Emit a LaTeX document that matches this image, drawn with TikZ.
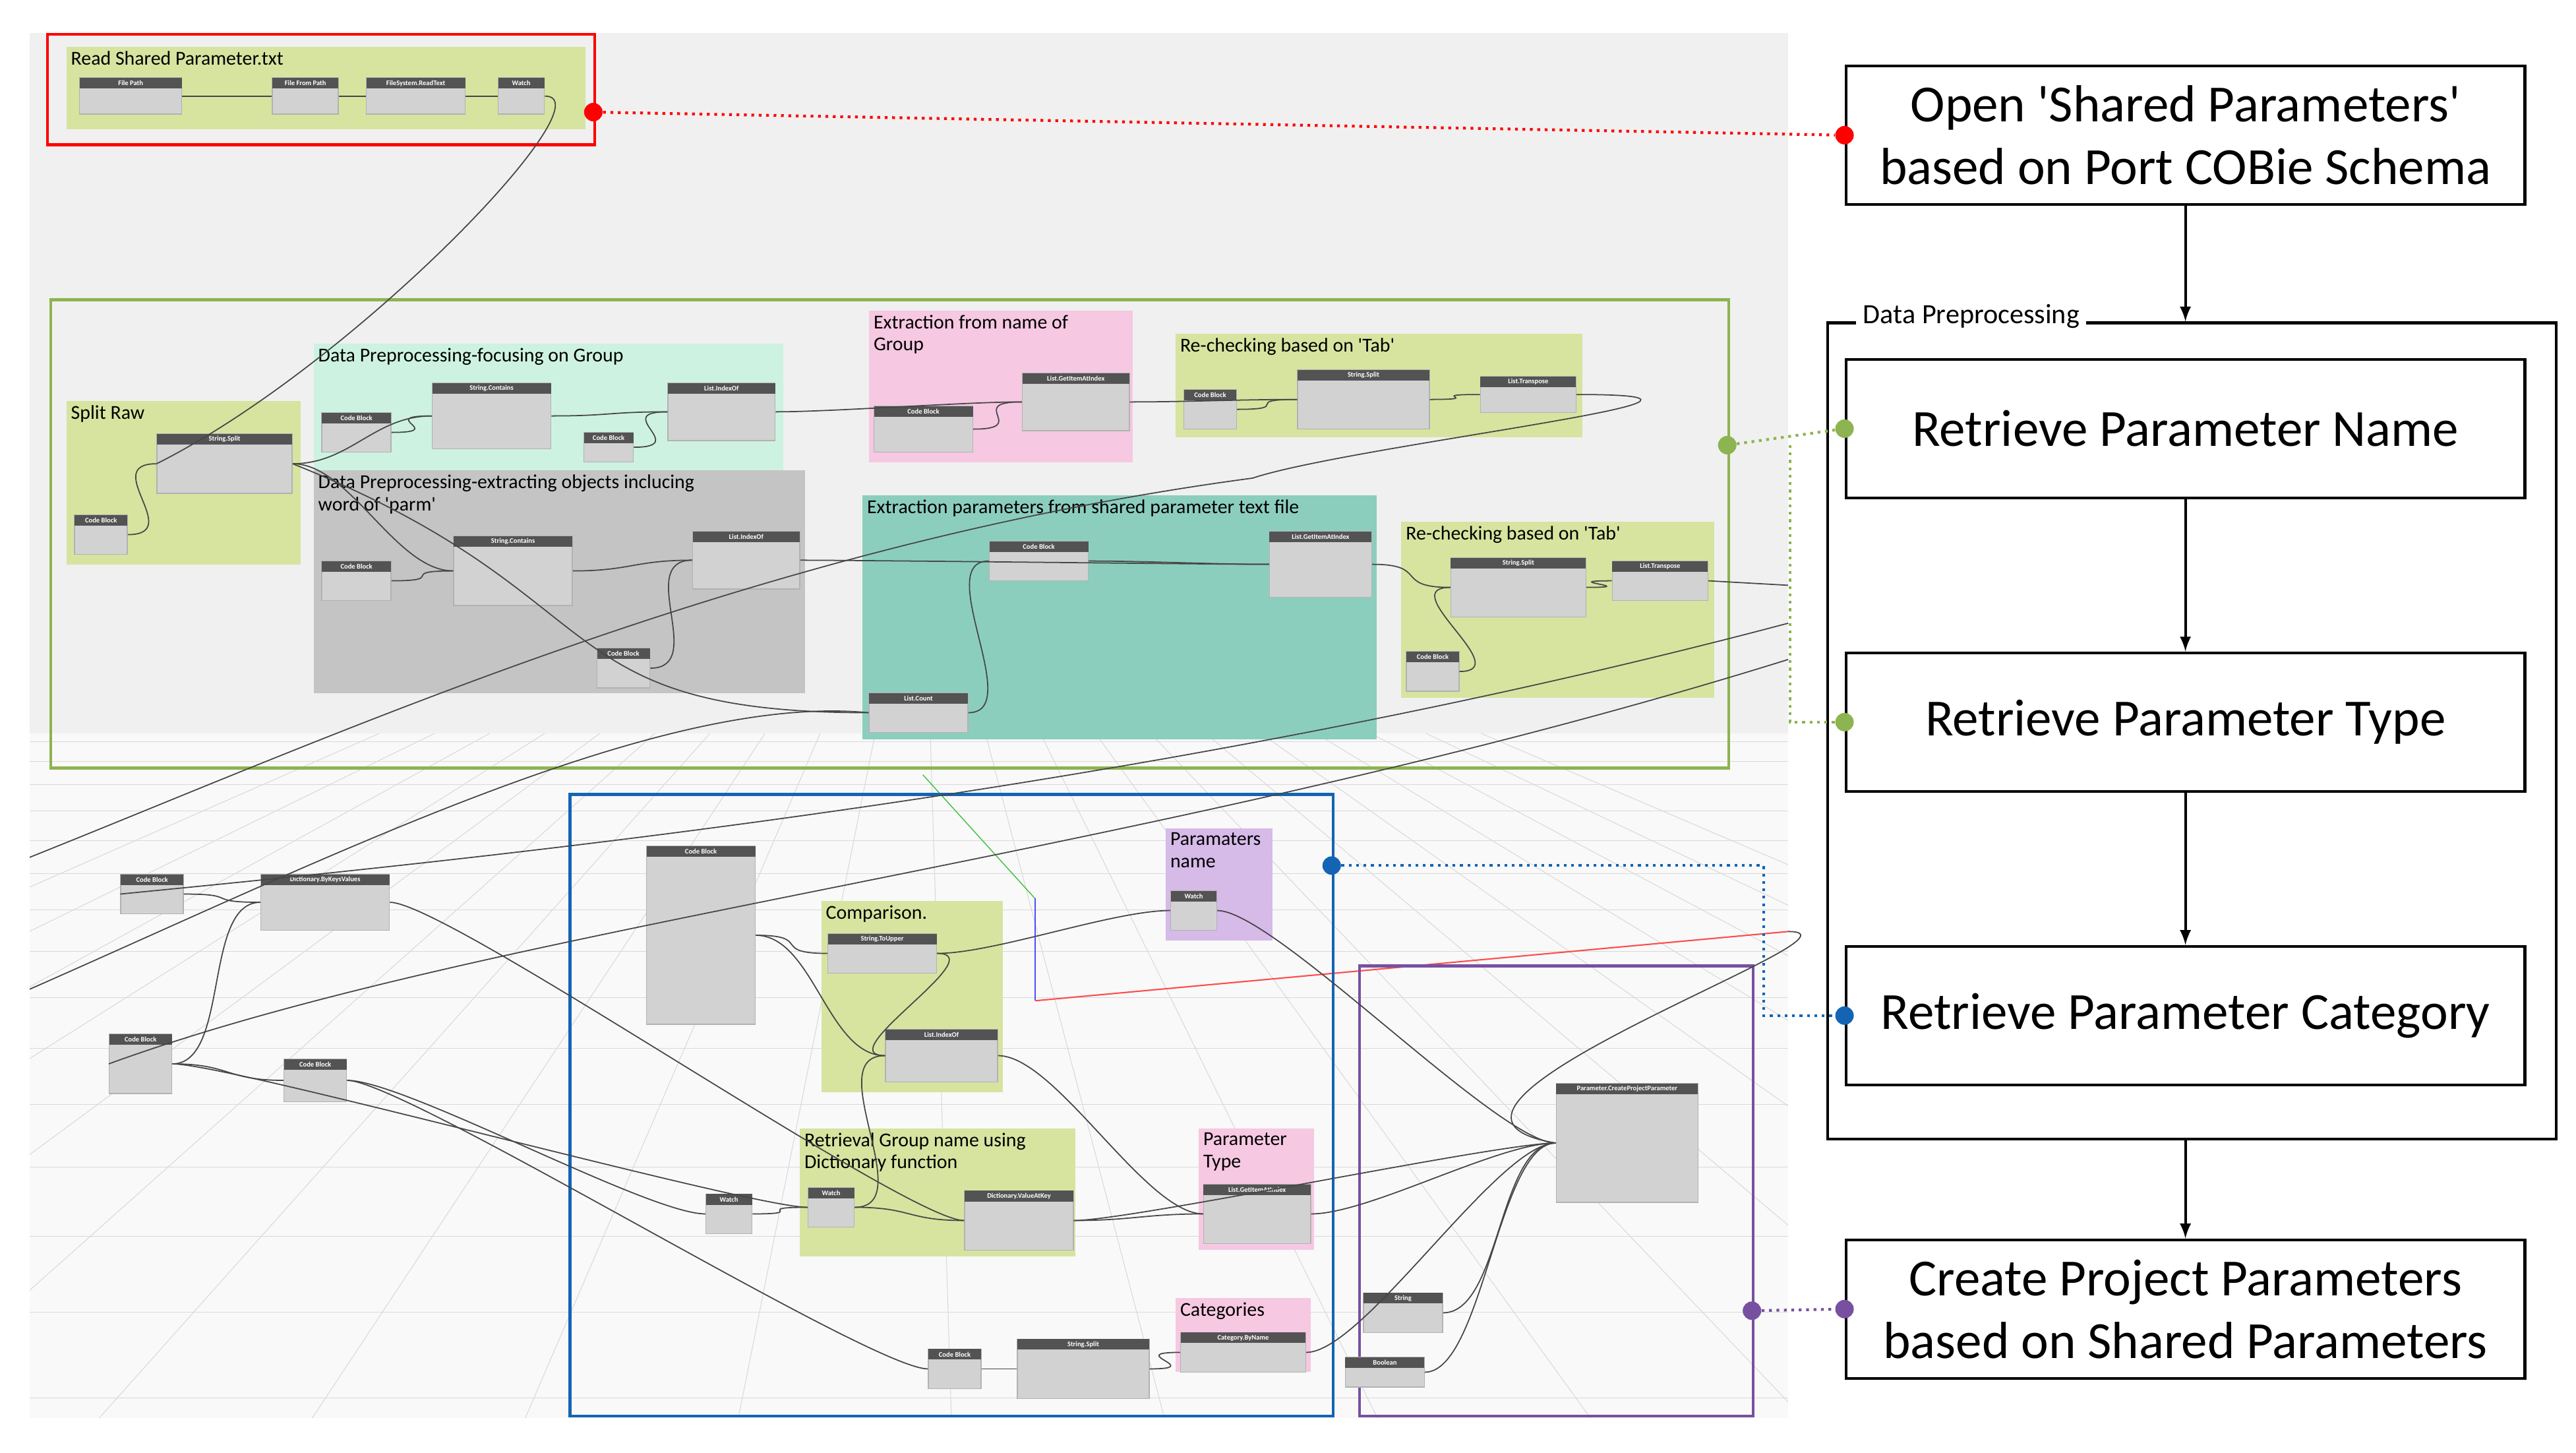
\documentclass[tikz,border=0pt]{standalone}
\usepackage{fontspec}
\setmainfont{Carlito}
\usetikzlibrary{positioning, calc, backgrounds}

\definecolor{ygreen}{RGB}{214,228,160}
\definecolor{lcyan}{RGB}{205,242,226}
\definecolor{lgray}{RGB}{196,196,196}
\definecolor{lpink}{RGB}{246,200,226}
\definecolor{lteal}{RGB}{140,206,190}
\definecolor{lpurple}{RGB}{214,186,232}
\definecolor{frgreen}{RGB}{140,180,80}
\definecolor{frblue}{RGB}{20,100,180}
\definecolor{frpurple}{RGB}{120,80,160}
\definecolor{bgscreen}{RGB}{240,240,240}

\tikzset{
  grp/.style = {inner sep=0pt, draw=none},
  grptext/.style = {font=\fontsize{8.5}{9.5}\selectfont, inner sep=2pt, align=left},
  dbody/.style = {fill=gray!35, draw=gray!60, inner sep=0pt},
  dhead/.style = {fill=gray!65!black, text=white, font=\fontsize{3}{3.5}\selectfont\bfseries,
    inner sep=0.5pt, minimum height=0.16cm},
  wire/.style = {draw=gray!55!black, line width=0.5pt},
  flowstep/.style = {draw, line width=1.2pt, fill=white, minimum width=412*0.025cm,
    minimum height=84*0.025cm, align=center, font=\fontsize{22.5}{27}\selectfont},
  dot/.style = {circle, inner sep=0pt, minimum size=0.28cm},
  link/.style = {dotted, line width=1.2pt}
}

\newcommand{\grp}[7]{%
  \node[grp, fill=#6, minimum width=#4*0.025cm, minimum height=#5*0.025cm, anchor=north west] (#1) at (#2,#3) {};
  \node[grptext, anchor=north west] (#1t) at (#1.north west) {#7};}
\newcommand{\dyn}[6]{%
  \node[dbody, minimum width=#4*0.025cm, minimum height=#5*0.025cm, anchor=north west] (#1) at (#2,#3) {};
  \node[dhead, minimum width=#4*0.025cm, anchor=north west] (#1h) at (#2,#3) {#6};}
\newcommand{\wire}[2]{\draw[wire] (#1.east) .. controls +(35,0) and +(-35,0) .. (#2.west);}
\newcommand{\sq}{\textquotesingle}

\begin{document}
\begin{tikzpicture}[x=0.025cm, y=-0.025cm, >=latex]
\useasboundingbox (0,0) rectangle (1563,881);

% screenshot background with perspective grid
\fill[bgscreen] (18,20) rectangle (1085,860);
\begin{scope}
  \clip (18,445) rectangle (1085,860);
  \fill[white!60!bgscreen] (18,445) rectangle (1085,860);
  \foreach \yy in {450,462,476,492,510,530,552,577,605,636,670,708,750,796,848}
    \draw[gray!30, line width=0.3pt] (18,\yy) -- (1085,\yy);
  \foreach \xx in {-2400,-2100,...,3600}
    \draw[gray!30, line width=0.3pt] (560,300) -- (\xx,1600);
  \draw[green!50!gray, line width=0.4pt] (560,470) -- (628,545);
  \draw[blue!70, line width=0.6pt] (628,545) -- (628,607);
  \draw[red!70, line width=0.6pt] (628,607) -- (1085,565);
\end{scope}

% top: reading the file
\node[draw=red, line width=1.2pt, minimum width=332*0.025cm, minimum height=67*0.025cm, anchor=north west, inner sep=0pt] (readBox) at (28,20) {};
\grp{gRead}{40}{28}{315}{50}{ygreen}{Read Shared Parameter.txt}
\dyn{filePath}{48}{47}{62}{22}{File Path}
\dyn{fileFromPath}{165}{47}{40}{22}{File From Path}
\dyn{readText}{222}{47}{60}{22}{FileSystem.ReadText}
\dyn{watchRead}{302}{47}{28}{22}{Watch}

% data preprocessing area
\node[draw=frgreen, line width=1.2pt, minimum width=1018*0.025cm, minimum height=284*0.025cm, anchor=north west, inner sep=0pt] (prepBox) at (30,181) {};
\grp{gSplit}{40}{243}{142}{99}{ygreen}{Split Raw}
\grp{gFocus}{190}{208}{285}{77}{lcyan}{Data Preprocessing-focusing on Group}
\grp{gParm}{190}{285}{298}{135}{lgray}{Data Preprocessing-extracting objects inclucing\\word of \sq parm\sq}
\grp{gName}{527}{188}{160}{92}{lpink}{Extraction from name of\\Group}
\grp{gTabA}{713}{202}{247}{63}{ygreen}{Re-checking based on \sq Tab\sq}
\grp{gText}{523}{300}{312}{148}{lteal}{Extraction parameters from shared parameter text file}
\grp{gTabB}{850}{316}{190}{107}{ygreen}{Re-checking based on \sq Tab\sq}

\dyn{splitRaw}{95}{263}{82}{36}{String.Split}
\dyn{cbSplit}{45}{312}{32}{24}{Code Block}
\dyn{cbFocus}{195}{250}{42}{24}{Code Block}
\dyn{containsA}{262}{232}{72}{40}{String.Contains}
\dyn{cbTrueA}{354}{262}{30}{18}{Code Block}
\dyn{indexA}{405}{232}{65}{35}{List.IndexOf}
\dyn{cbParm}{195}{340}{42}{24}{Code Block}
\dyn{containsB}{275}{325}{72}{42}{String.Contains}
\dyn{indexB}{420}{322}{65}{35}{List.IndexOf}
\dyn{cbTrueB}{362}{393}{32}{24}{Code Block}
\dyn{cbName}{530}{246}{60}{28}{Code Block}
\dyn{itemName}{620}{226}{65}{35}{List.GetItemAtIndex}
\dyn{cbTabA}{718}{236}{32}{24}{Code Block}
\dyn{splitTabA}{787}{224}{80}{36}{String.Split}
\dyn{transA}{898}{228}{58}{22}{List.Transpose}
\dyn{cbText}{600}{328}{60}{24}{Code Block}
\dyn{itemText}{770}{322}{62}{40}{List.GetItemAtIndex}
\dyn{countText}{527}{420}{60}{24}{List.Count}
\dyn{splitTabB}{880}{338}{82}{36}{String.Split}
\dyn{transB}{978}{340}{58}{24}{List.Transpose}
\dyn{cbTabB}{853}{395}{32}{24}{Code Block}

% lower area
\node[draw=frblue, line width=1.2pt, minimum width=463*0.025cm, minimum height=377*0.025cm, anchor=north west, inner sep=0pt] (typeBox) at (345,481) {};
\node[draw=frpurple, line width=1.2pt, minimum width=239*0.025cm, minimum height=273*0.025cm, anchor=north west, inner sep=0pt] (createBox) at (824,585) {};
\grp{gPname}{707}{502}{65}{68}{lpurple}{Paramaters\\name}
\grp{gComp}{498}{546}{110}{116}{ygreen}{Comparison.}
\grp{gDict}{485}{684}{167}{78}{ygreen}{Retrieval Group name using\\Dictionary function}
\grp{gPtype}{727}{684}{70}{74}{lpink}{Parameter\\Type}
\grp{gCat}{713}{787}{82}{45}{lpink}{Categories}

\dyn{cbKeys}{73}{530}{38}{24}{Code Block}
\dyn{dictKeys}{158}{530}{78}{34}{Dictionary.ByKeysValues}
\dyn{cbTypes}{392}{513}{66}{108}{Code Block}
\dyn{upper}{502}{566}{66}{24}{String.ToUpper}
\dyn{indexComp}{537}{624}{68}{32}{List.IndexOf}
\dyn{watchName}{710}{540}{28}{24}{Watch}
\dyn{cbLeft}{66}{627}{38}{36}{Code Block}
\dyn{cbMid}{172}{642}{38}{26}{Code Block}
\dyn{watchA}{428}{724}{28}{24}{Watch}
\dyn{watchB}{490}{720}{28}{24}{Watch}
\dyn{valueKey}{585}{722}{66}{36}{Dictionary.ValueAtKey}
\dyn{itemType}{730}{718}{65}{36}{List.GetItemAtIndex}
\dyn{createParam}{944}{657}{86}{72}{Parameter.CreateProjectParameter}
\dyn{strNode}{827}{784}{48}{24}{String}
\dyn{boolNode}{816}{823}{48}{18}{Boolean}
\dyn{cbCat}{563}{818}{32}{24}{Code Block}
\dyn{splitCat}{617}{812}{80}{36}{String.Split}
\dyn{catByName}{716}{808}{76}{24}{Category.ByName}

% wires
\wire{filePath}{fileFromPath}
\wire{fileFromPath}{readText}
\wire{readText}{watchRead}
\draw[wire] (watchRead.east) .. controls +(40,0) and +(120,-60) .. (splitRaw.west);
\wire{cbSplit}{splitRaw}
\wire{splitRaw}{containsA}
\wire{splitRaw}{containsB}
\wire{cbFocus}{containsA}
\wire{containsA}{indexA}
\wire{cbTrueA}{indexA}
\wire{cbParm}{containsB}
\wire{containsB}{indexB}
\wire{cbTrueB}{indexB}
\wire{indexA}{itemName}
\wire{cbName}{itemName}
\wire{itemName}{splitTabA}
\wire{cbTabA}{splitTabA}
\wire{splitTabA}{transA}
\wire{indexB}{itemText}
\wire{cbText}{itemText}
\wire{countText}{cbText}
\wire{itemText}{splitTabB}
\wire{cbTabB}{splitTabB}
\wire{splitTabB}{transB}
\draw[wire] (splitRaw.east) .. controls +(200,80) and +(-200,0) .. (countText.west);
\draw[wire] (transB.east) -- (1085,355);
\draw[wire] (transA.east) .. controls +(140,0) and +(60,-20) .. (760,290) .. controls +(-300,40) and +(200,-80) .. (18,520);
\draw[wire] (1085,378) .. controls (700,480) and (300,520) .. (cbKeys.west);
\draw[wire] (1085,400) .. controls (700,520) and (300,560) .. (cbLeft.west);
\draw[wire] (18,600) .. controls (200,520) and (400,420) .. (countText.west);
\wire{cbKeys}{dictKeys}
\wire{cbLeft}{cbMid}
\wire{cbLeft}{dictKeys}
\wire{cbMid}{watchA}
\wire{cbLeft}{watchB}
\wire{dictKeys}{valueKey}
\wire{watchA}{watchB}
\wire{watchB}{valueKey}
\wire{cbTypes}{upper}
\wire{upper}{indexComp}
\wire{cbTypes}{indexComp}
\draw[wire] (indexComp.west) .. controls +(-40,0) and +(40,0) .. (watchB.east);
\wire{valueKey}{itemType}
\wire{indexComp}{itemType}
\wire{upper}{watchName}
\wire{watchName}{createParam}
\wire{itemType}{createParam}
\wire{valueKey}{createParam}
\wire{strNode}{createParam}
\wire{boolNode}{createParam}
\wire{cbMid}{cbCat}
\wire{cbCat}{splitCat}
\wire{splitCat}{catByName}
\wire{catByName}{createParam}
\draw[wire] (createParam.west) .. controls +(-120,-20) and +(60,0) .. (1085,565);

% flow on the right
\node[flowstep] (open) at (1326,82) {Open \sq Shared Parameters\sq\\based on Port COBie Schema};
\node[draw, line width=1.2pt, minimum width=442*0.025cm, minimum height=495*0.025cm, anchor=north west, inner sep=0pt] (prepFrame) at (1108,195) {};
\node[fill=white, font=\fontsize{12}{14}\selectfont, inner sep=3pt, anchor=west] (prepLabel) at (1126,192) {Data Preprocessing};
\node[flowstep] (pName) at (1326,260) {Retrieve Parameter Name};
\node[flowstep] (pType) at (1326,438) {Retrieve Parameter Type};
\node[flowstep] (pCat) at (1326,616) {Retrieve Parameter Category};
\node[flowstep] (create) at (1326,794) {Create Project Parameters\\based on Shared Parameters};
\draw[->, line width=1.2pt] (open) -- (prepFrame.north -| open);
\draw[->, line width=1.2pt] (pName) -- (pType);
\draw[->, line width=1.2pt] (pType) -- (pCat);
\draw[->, line width=1.2pt] (prepFrame.south -| create) -- (create);

% links between picture and flow
\node[dot, fill=red] (rA) at (360,68) {};
\node[dot, fill=red] (rB) at (open.west) {};
\draw[link, red] (rA) -- (rB);
\node[dot, fill=frgreen] (gA) at (1048,270) {};
\node[dot, fill=frgreen] (gB) at (pName.west) {};
\node[dot, fill=frgreen] (gC) at (pType.west) {};
\coordinate (gJoin) at (1086,270);
\draw[link, frgreen] (gA) -- (gB);
\draw[link, frgreen] (gJoin) |- (gC);
\node[dot, fill=frblue] (bA) at (808,525) {};
\node[dot, fill=frblue] (bB) at (pCat.west) {};
\coordinate (bJoin) at (1070,525);
\draw[link, frblue] (bA) -- (bJoin) |- (bB);
\node[dot, fill=frpurple] (pA) at (1063,795) {};
\node[dot, fill=frpurple] (pB) at (create.west) {};
\draw[link, frpurple] (pA) -- (pB);
\end{tikzpicture}
\end{document}
